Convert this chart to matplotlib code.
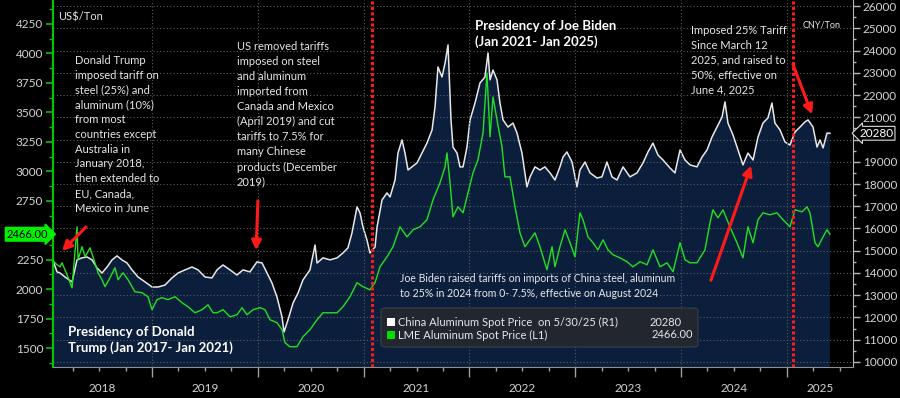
import matplotlib
matplotlib.use("Agg")
import matplotlib.pyplot as plt
import numpy as np
from matplotlib.patches import FancyBboxPatch, Rectangle, FancyArrowPatch
from matplotlib.transforms import blended_transform_factory as btf
from matplotlib.ticker import MultipleLocator

# ---------------- data (decimal years) ----------------
china_t = [2018.055, 2018.102, 2018.131, 2018.178, 2018.244, 2018.291, 2018.338, 2018.386, 2018.433, 2018.480,
           2018.527, 2018.575, 2018.622, 2018.669, 2018.716, 2018.764, 2018.811, 2018.868, 2018.934, 2019.000,
           2019.057, 2019.123, 2019.189, 2019.246, 2019.312, 2019.378, 2019.435, 2019.501, 2019.567, 2019.614,
           2019.671, 2019.737, 2019.803, 2019.860, 2019.926, 2019.992, 2020.040, 2020.087, 2020.134, 2020.181,
           2020.229, 2020.248, 2020.285, 2020.333, 2020.380, 2020.427, 2020.493, 2020.541, 2020.560, 2020.616,
           2020.682, 2020.749, 2020.805, 2020.852, 2020.890, 2020.938, 2020.966, 2020.994, 2021.032, 2021.060,
           2021.108, 2021.127, 2021.174, 2021.221, 2021.250, 2021.297, 2021.325, 2021.363, 2021.391, 2021.420,
           2021.457, 2021.505, 2021.552, 2021.599, 2021.647, 2021.675, 2021.703, 2021.741, 2021.770, 2021.798,
           2021.826, 2021.845, 2021.883, 2021.911, 2021.940, 2021.977, 2022.006, 2022.053, 2022.100, 2022.147,
           2022.176, 2022.195, 2022.223, 2022.261, 2022.289, 2022.318, 2022.365, 2022.412, 2022.450, 2022.497,
           2022.544, 2022.573, 2022.620, 2022.667, 2022.714, 2022.762, 2022.809, 2022.856, 2022.885, 2022.922,
           2022.970, 2023.017, 2023.045, 2023.093, 2023.140, 2023.206, 2023.253, 2023.300, 2023.348, 2023.395,
           2023.452, 2023.518, 2023.584, 2023.641, 2023.688, 2023.735, 2023.783, 2023.830, 2023.896, 2023.943,
           2023.991, 2024.038, 2024.085, 2024.151, 2024.199, 2024.246, 2024.293, 2024.340, 2024.388, 2024.416,
           2024.444, 2024.492, 2024.539, 2024.586, 2024.633, 2024.681, 2024.728, 2024.775, 2024.822, 2024.860,
           2024.888, 2024.936, 2024.983, 2025.030, 2025.078, 2025.125, 2025.172, 2025.201, 2025.248, 2025.286,
           2025.314, 2025.343, 2025.380, 2025.408]
china_v = [14680, 14050, 14000, 13820, 13600, 14590, 14680, 14720, 14590, 14230,
           14000, 14270, 14590, 14770, 14590, 14450, 14140, 13820, 13600, 13370,
           13370, 13460, 13780, 14000, 14140, 14270, 14140, 13820, 13780, 14140,
           14360, 14140, 13910, 14140, 14050, 14500, 14450, 14000, 13550, 12920,
           12020, 11350, 11890, 12650, 13100, 13690, 14140, 15260, 14450, 14680,
           14590, 14680, 14900, 15130, 15800, 16970, 16700, 16070, 15480, 14900,
           15170, 16070, 17280, 17600, 17420, 18180, 19390, 19980, 19390, 18630,
           18770, 18950, 19390, 19840, 20430, 21460, 23260, 22810, 23440, 24250,
           20880, 19660, 19390, 18770, 18770, 19660, 20880, 21640, 22540, 22810,
           23890, 22680, 23120, 22680, 21640, 20880, 20560, 20740, 20290, 19390,
           17870, 18320, 18770, 18630, 18770, 18500, 18180, 18770, 19210, 19440,
           18990, 17870, 18630, 18990, 18500, 18270, 18320, 18990, 18320, 18180,
           18770, 18320, 18500, 18950, 19440, 19840, 19300, 19080, 18720, 18500,
           19530, 19080, 18860, 18770, 19210, 19530, 20110, 20560, 21010, 21690,
           20740, 20200, 19530, 18860, 19390, 19080, 20110, 20740, 20970, 21640,
           20740, 20430, 19890, 19750, 20340, 20560, 20790, 20880, 20560, 19660,
           19980, 19620, 20290, 20280]

lme_t = [2018.055, 2018.102, 2018.131, 2018.149, 2018.197, 2018.244, 2018.291, 2018.301, 2018.338, 2018.367,
         2018.414, 2018.442, 2018.490, 2018.527, 2018.556, 2018.603, 2018.650, 2018.679, 2018.726, 2018.773,
         2018.839, 2018.906, 2018.962, 2019.000, 2019.047, 2019.095, 2019.151, 2019.217, 2019.284, 2019.340,
         2019.406, 2019.473, 2019.529, 2019.577, 2019.614, 2019.671, 2019.737, 2019.803, 2019.851, 2019.898,
         2019.955, 2020.021, 2020.068, 2020.115, 2020.181, 2020.229, 2020.257, 2020.304, 2020.370, 2020.427,
         2020.493, 2020.560, 2020.616, 2020.682, 2020.749, 2020.805, 2020.871, 2020.938, 2020.994, 2021.060,
         2021.108, 2021.155, 2021.221, 2021.278, 2021.344, 2021.410, 2021.467, 2021.533, 2021.599, 2021.656,
         2021.722, 2021.770, 2021.788, 2021.817, 2021.845, 2021.892, 2021.940, 2021.987, 2022.034, 2022.081,
         2022.129, 2022.166, 2022.195, 2022.223, 2022.261, 2022.308, 2022.336, 2022.384, 2022.431, 2022.478,
         2022.525, 2022.573, 2022.620, 2022.667, 2022.733, 2022.781, 2022.809, 2022.856, 2022.904, 2022.951,
         2022.998, 2023.045, 2023.074, 2023.121, 2023.168, 2023.215, 2023.263, 2023.310, 2023.357, 2023.423,
         2023.490, 2023.546, 2023.613, 2023.679, 2023.735, 2023.802, 2023.868, 2023.925, 2023.991, 2024.038,
         2024.085, 2024.151, 2024.227, 2024.274, 2024.302, 2024.350, 2024.397, 2024.463, 2024.529, 2024.586,
         2024.633, 2024.681, 2024.728, 2024.775, 2024.841, 2024.907, 2024.964, 2025.030, 2025.078, 2025.144,
         2025.191, 2025.219, 2025.267, 2025.295, 2025.343, 2025.380, 2025.408]
lme_v = [2250, 2207, 2190, 2224, 2122, 2012, 2529, 2250, 2360, 2275,
         2351, 2275, 2139, 2080, 2021, 2097, 2182, 2080, 2139, 2080,
         1978, 1970, 1936, 1826, 1911, 1928, 1911, 1936, 1885, 1851,
         1800, 1826, 1868, 1800, 1800, 1826, 1766, 1783, 1843, 1783,
         1826, 1843, 1826, 1741, 1716, 1656, 1546, 1512, 1512, 1597,
         1656, 1741, 1800, 1800, 1800, 1851, 1936, 2055, 2021, 1995,
         2055, 2190, 2275, 2360, 2529, 2444, 2504, 2529, 2589, 2758,
         2902, 3038, 3156, 2902, 2614, 2699, 2648, 2817, 2987, 3097,
         3326, 3834, 3292, 3631, 3436, 3207, 2953, 2953, 2699, 2478,
         2360, 2420, 2478, 2360, 2165, 2360, 2190, 2360, 2504, 2394,
         2275, 2648, 2589, 2444, 2394, 2334, 2419, 2334, 2292, 2266,
         2233, 2190, 2233, 2207, 2334, 2190, 2224, 2148, 2394, 2250,
         2224, 2224, 2334, 2563, 2673, 2605, 2673, 2529, 2394, 2266,
         2529, 2394, 2589, 2648, 2631, 2648, 2589, 2529, 2673, 2656,
         2699, 2648, 2394, 2360, 2444, 2504, 2466]

inaugurations = [2021.08, 2025.06]
years = [2018, 2019, 2020, 2021, 2022, 2023, 2024, 2025]
left_ticks = list(range(1500, 4251, 250))
right_ticks = list(range(10000, 26001, 1000))

# ---------------- styling ----------------
plt.rcParams['font.family'] = ['Lato', 'DejaVu Sans']
NAVY = '#0b1f3d'
GREEN = '#22e022'
WHITE = '#e8e8e8'
TXT = '#e6e6e6'
GRID = '#5c5c5c'
W, H = 900, 398

fig = plt.figure(figsize=(9, 3.98), dpi=100, facecolor='black')
ax = fig.add_axes([53 / W, 1 - 367 / H, 800 / W, 367 / H])
ax2 = ax.twinx()
ax.set_zorder(ax2.get_zorder() + 1)
ax.patch.set_visible(False)
ax2.patch.set_visible(True)
ax2.patch.set_facecolor('black')

xmin, xmax = 2018.064, 2025.626
ax.set_xlim(xmin, xmax)
ax.set_ylim(1340, 4453)
ax2.set_ylim(9775, 26270)

# China series (right axis) with navy area
ax2.fill_between(china_t, china_v, 0, color=NAVY, lw=0, zorder=1)
ax2.plot(china_t, china_v, color=WHITE, lw=1.1, zorder=3)
# LME series (left axis)
ax.plot(lme_t, lme_v, color=GREEN, lw=1.0, zorder=3)

# inauguration lines
for d in inaugurations:
    ax.axvline(d, color='#ff1a1a', lw=2.2, ls=(0, (1, 0.8)), zorder=4)

# axes / ticks  (labels hidden where the last-value tags sit, as in the original)
lme_last, china_last = lme_v[-1], china_v[-1]
ax.set_yticks(left_ticks)
ax.set_yticklabels(['' if abs(t - lme_last) < 60 else str(t) for t in left_ticks])
ax.yaxis.set_minor_locator(MultipleLocator(125))
ax.tick_params(axis='y', which='major', colors='#00c800', labelcolor='#d4d4d4',
               length=5, width=1.2, labelsize=8.5, pad=2)
ax.tick_params(axis='y', which='minor', colors='#00c800', length=3, width=1)
ax2.set_yticks(right_ticks)
ax2.set_yticklabels(['' if abs(t - china_last) < 400 else str(t) for t in right_ticks])
ax2.yaxis.set_minor_locator(MultipleLocator(500))
ax2.tick_params(axis='y', which='major', colors='#b8b8b8', labelcolor='#d4d4d4',
                length=5, width=1, labelsize=8.5, pad=2)
ax2.tick_params(axis='y', which='minor', colors='#b8b8b8', length=2.5, width=1)

ax.set_xticks(years[1:])
ax.set_xticklabels([])
ax.xaxis.set_minor_locator(MultipleLocator(0.25))
ax.tick_params(axis='x', which='major', colors='#a0a0a0', length=7, width=1)
ax.tick_params(axis='x', which='minor', colors='#a0a0a0', length=3, width=1)
for yr in years:
    lo, hi = max(yr, xmin), min(yr + 1, xmax)
    ax.text((lo + hi) / 2, -21 / 367, str(yr), transform=btf(ax.transData, ax.transAxes),
            ha='center', va='center', color='#d4d4d4', fontsize=8.5, clip_on=False)

ax2.yaxis.grid(True, color=GRID, ls=(0, (1, 2)), lw=0.8)
ax.xaxis.grid(True, which='major', color=GRID, ls=(0, (1, 2)), lw=0.8)

for a in (ax, ax2):
    a.spines['top'].set_visible(False)
ax.spines['right'].set_visible(False)
ax.spines['left'].set_color('#00c800')
ax.spines['left'].set_linewidth(1.5)
ax.spines['bottom'].set_color('#909090')
ax2.spines['left'].set_visible(False)
ax2.spines['bottom'].set_visible(False)
ax2.spines['right'].set_color('#b8b8b8')

# last-value tags
ax.text(-0.006, lme_last, f'{lme_last:.2f}', transform=btf(ax.transAxes, ax.transData),
        ha='right', va='center', fontsize=8, color='black', clip_on=False, zorder=10,
        bbox=dict(boxstyle='rarrow,pad=0.12', fc='#00f000', ec='#00f000'))
ax.text(1.008, china_last, f'{china_last}', transform=btf(ax.transAxes, ax2.transData),
        ha='left', va='center', fontsize=8.5, color='white', clip_on=False, zorder=10,
        bbox=dict(boxstyle='larrow,pad=0.12', fc='black', ec='#dddddd', lw=0.8))


def fx(x):
    return x / W


def fy(y):
    return 1 - y / H


# annotations
fig.text(fx(58), fy(17), 'US$/Ton', color=TXT, fontsize=8, va='center', ha='left')
fig.text(fx(803), fy(25), 'CNY/Ton', color=TXT, fontsize=6.5, va='center', ha='left')

fig.text(fx(75), fy(55),
         'Donald Trump\nimposed tariff on\nsteel (25%) and\naluminum (10%)\nfrom most\ncountries except\n'
         'Australia in\nJanuary 2018,\nthen extended to\nEU, Canada,\nMexico in June',
         color=TXT, fontsize=8, va='top', ha='left', linespacing=1.42)
fig.text(fx(237), fy(41),
         'US removed tariffs\nimposed on steel\nand aluminum\nimported from\nCanada and Mexico\n'
         '(April 2019) and cut\ntariffs to 7.5% for\nmany Chinese\nproducts (December\n2019)',
         color=TXT, fontsize=8, va='top', ha='left', linespacing=1.45)
fig.text(fx(691), fy(25),
         'Imposed 25% Tariff\nSince March 12\n2025, and raised to\n50%, effective on\nJune 4, 2025',
         color=TXT, fontsize=8, va='top', ha='left', linespacing=1.42)
fig.text(fx(475), fy(20), 'Presidency of Joe Biden\n(Jan 2021- Jan 2025)',
         color='white', fontsize=9.5, fontweight='bold', va='top', ha='left', linespacing=1.3)
fig.text(fx(68), fy(326), 'Presidency of Donald\nTrump (Jan 2017- Jan 2021)',
         color='white', fontsize=9.5, fontweight='bold', va='top', ha='left', linespacing=1.3)
fig.text(fx(400), fy(273),
         'Joe Biden raised tariffs on imports of China steel, aluminum\n'
         'to 25% in 2024 from 0- 7.5%, effective on August 2024',
         color=TXT, fontsize=7.6, va='top', ha='left', linespacing=1.45)

# red arrows
arrows = [((88, 225), (60, 253)), ((258, 198), (256, 253)),
          ((710, 283), (752, 163)), ((792, 62), (813, 117))]
for (x0, y0), (x1, y1) in arrows:
    fig.add_artist(FancyArrowPatch(
        (fx(x0), fy(y0)), (fx(x1), fy(y1)), transform=fig.transFigure,
        arrowstyle='-|>', mutation_scale=14, color='#ff1a1a', lw=2.2, zorder=20))

# legend box
fig.add_artist(FancyBboxPatch((fx(381), fy(347)), (698 - 381) / W, (347 - 308) / H,
                              boxstyle='round,pad=0,rounding_size=0.006',
                              transform=fig.transFigure, fc='#24272f', ec='#3c404a',
                              lw=0.8, alpha=0.95, zorder=15))
for yc, col in ((322, 'white'), (335, '#00e000')):
    fig.add_artist(Rectangle((fx(387), fy(yc + 4)), 8 / W, 8 / H, transform=fig.transFigure,
                             fc=col, ec='none', zorder=16))
fig.text(fx(398), fy(322), 'China Aluminum Spot Price  on 5/30/25 (R1)', color=TXT,
         fontsize=8, va='center', ha='left', zorder=17)
fig.text(fx(650), fy(322), f'{china_last}', color=TXT, fontsize=8, va='center', ha='left', zorder=17)
fig.text(fx(398), fy(335), 'LME Aluminum Spot Price (L1)', color=TXT,
         fontsize=8, va='center', ha='left', zorder=17)
fig.text(fx(693), fy(335), f'{lme_last:.2f}', color=TXT, fontsize=8, va='center', ha='right', zorder=17)

fig.savefig('out.png', dpi=100, facecolor='black')
